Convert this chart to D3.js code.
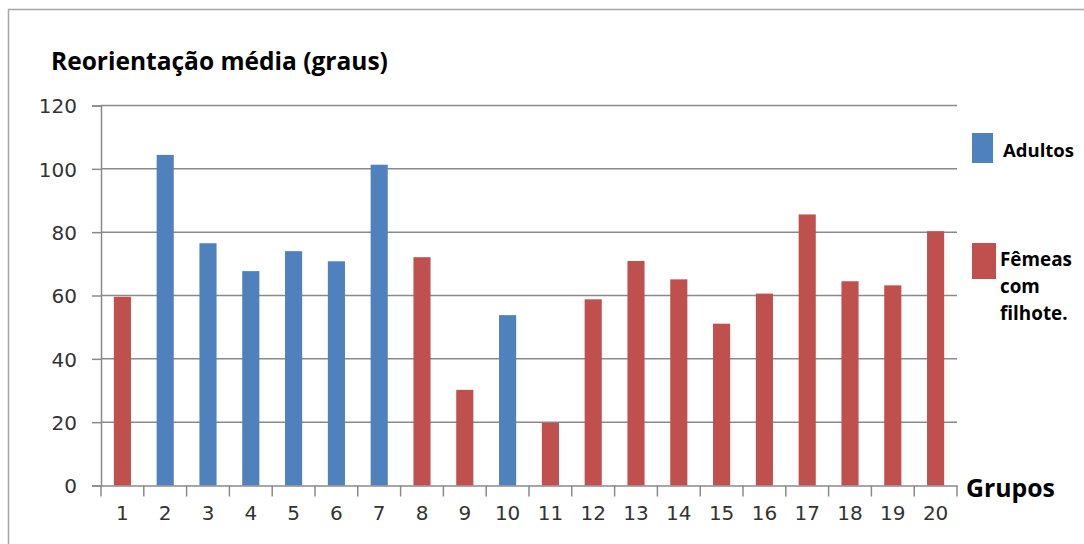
<!DOCTYPE html>
<html>
<head>
<meta charset="utf-8">
<script src="https://cdn.jsdelivr.net/npm/d3@7"></script>
<style>
  html, body { margin: 0; padding: 0; background: #fff; }
  svg { display: block; }
</style>
</head>
<body>
<svg id="chart" width="1084" height="544"></svg>
<script>
// Groups 1–20 and mean reorientation (degrees)
const groups = ["1","2","3","4","5","6","7","8","9","10","11","12","13","14","15","16","17","18","19","20"];
const values = [59.6, 104.4, 76.5, 67.7, 74.0, 70.8, 101.3, 72.1, 30.2, 53.8, 19.8, 58.8, 70.9, 65.1, 51.1, 60.6, 85.6, 64.5, 63.2, 80.3];
// Category of each group: "A" = Adultos, "F" = Fêmeas com filhote.
const kinds  = ["F","A","A","A","A","A","A","F","F","A","F","F","F","F","F","F","F","F","F","F"];
const yTicks = [0, 20, 40, 60, 80, 100, 120];
const seriesNames = { A: "Adultos", F: ["Fêmeas", "com", "filhote."] };
const seriesColors = { A: "#4F81BD", F: "#C0504D" };

const svg = d3.select("#chart");
const gridColor = "#8a8a8a";
const labelFont = "'DejaVu Sans', sans-serif";
const boldFont = "'Open Sans', sans-serif";

// Frame around the chart area
svg.append("path")
  .attr("d", "M8.5,544 L8.5,9.5 L1084,9.5")
  .attr("fill", "none").attr("stroke", "#a6a6a6").attr("stroke-width", 1.5);

const x = d3.scaleBand().domain(groups).range([101, 957]).paddingInner(0.6).paddingOuter(0.3);
const y = d3.scaleLinear().domain([0, 120]).range([485.5, 105.5]);

// Horizontal gridlines
svg.append("g").selectAll("line").data(yTicks.filter(t => t > 0)).join("line")
  .attr("x1", 101).attr("x2", 957)
  .attr("y1", d => y(d)).attr("y2", d => y(d))
  .attr("stroke", gridColor).attr("stroke-width", 1.5);

// Bars
svg.append("g").selectAll("rect").data(groups).join("rect")
  .attr("x", d => x(d))
  .attr("width", x.bandwidth())
  .attr("y", (d, i) => y(values[i]))
  .attr("height", (d, i) => y(0) - y(values[i]))
  .attr("fill", (d, i) => seriesColors[kinds[i]]);

// Y axis
const yAxis = svg.append("g").attr("transform", "translate(101,0)")
  .call(d3.axisLeft(y).tickValues(yTicks).tickSize(9).tickPadding(15).tickFormat(d3.format("d")));
yAxis.select(".domain").attr("stroke", gridColor).attr("stroke-width", 1.5);
yAxis.selectAll(".tick line").attr("stroke", gridColor).attr("stroke-width", 1.5);
yAxis.selectAll(".tick text")
  .attr("font-family", labelFont).attr("font-size", 20).attr("fill", "#333")
  .attr("dy", "0.36em");

// X axis with ticks at category boundaries
const xAxis = svg.append("g").attr("transform", `translate(0,${y(0)})`)
  .call(d3.axisBottom(x).tickSize(0).tickPadding(28));
xAxis.select(".domain").attr("stroke", gridColor).attr("stroke-width", 1.5);
xAxis.selectAll(".tick text")
  .attr("font-family", labelFont).attr("font-size", 20).attr("fill", "#333")
  .attr("dy", "0.3em");
const step = x.step();
const bounds = d3.range(groups.length + 1).map(i => 101 + i * step);
xAxis.append("g").selectAll("line").data(bounds).join("line")
  .attr("x1", d => d).attr("x2", d => d)
  .attr("y1", 0).attr("y2", 11)
  .attr("stroke", gridColor).attr("stroke-width", 1.5);

// Scale a text's font size so it spans a given width
function fitText(sel, width) {
  const w = sel.node().getComputedTextLength();
  const fs = parseFloat(sel.attr("font-size"));
  sel.attr("font-size", fs * width / w);
  return sel;
}

// Title
fitText(svg.append("text")
  .attr("x", 51).attr("y", 70)
  .attr("font-family", boldFont).attr("font-weight", "bold").attr("font-size", 22)
  .attr("fill", "#000")
  .text("Reorientação média (graus)"), 337);

// X axis title
fitText(svg.append("text")
  .attr("x", 966).attr("y", 497)
  .attr("font-family", boldFont).attr("font-weight", "bold").attr("font-size", 22)
  .attr("fill", "#000")
  .text("Grupos"), 89);

// Legend
const legend = svg.append("g");
legend.append("rect").attr("x", 972).attr("y", 133).attr("width", 21).attr("height", 30)
  .attr("fill", seriesColors.A);
fitText(legend.append("text")
  .attr("x", 1003).attr("y", 157)
  .attr("font-family", boldFont).attr("font-weight", "bold").attr("font-size", 17)
  .attr("fill", "#000").text(seriesNames.A), 71);

legend.append("rect").attr("x", 972).attr("y", 243).attr("width", 24).attr("height", 36)
  .attr("fill", seriesColors.F);
const fLines = seriesNames.F;
// Size the multi-line label from its first line
const probe = legend.append("text")
  .attr("font-family", boldFont).attr("font-weight", "bold").attr("font-size", 17)
  .text(fLines[0]);
fitText(probe, 72);
const fSize = probe.attr("font-size");
probe.remove();
const fText = legend.append("text")
  .attr("x", 1000).attr("y", 266)
  .attr("font-family", boldFont).attr("font-weight", "bold").attr("font-size", fSize)
  .attr("fill", "#000");
fLines.forEach((t, i) => {
  fText.append("tspan").attr("x", 1000).attr("dy", i === 0 ? 0 : 27).text(t);
});
</script>
</body>
</html>
